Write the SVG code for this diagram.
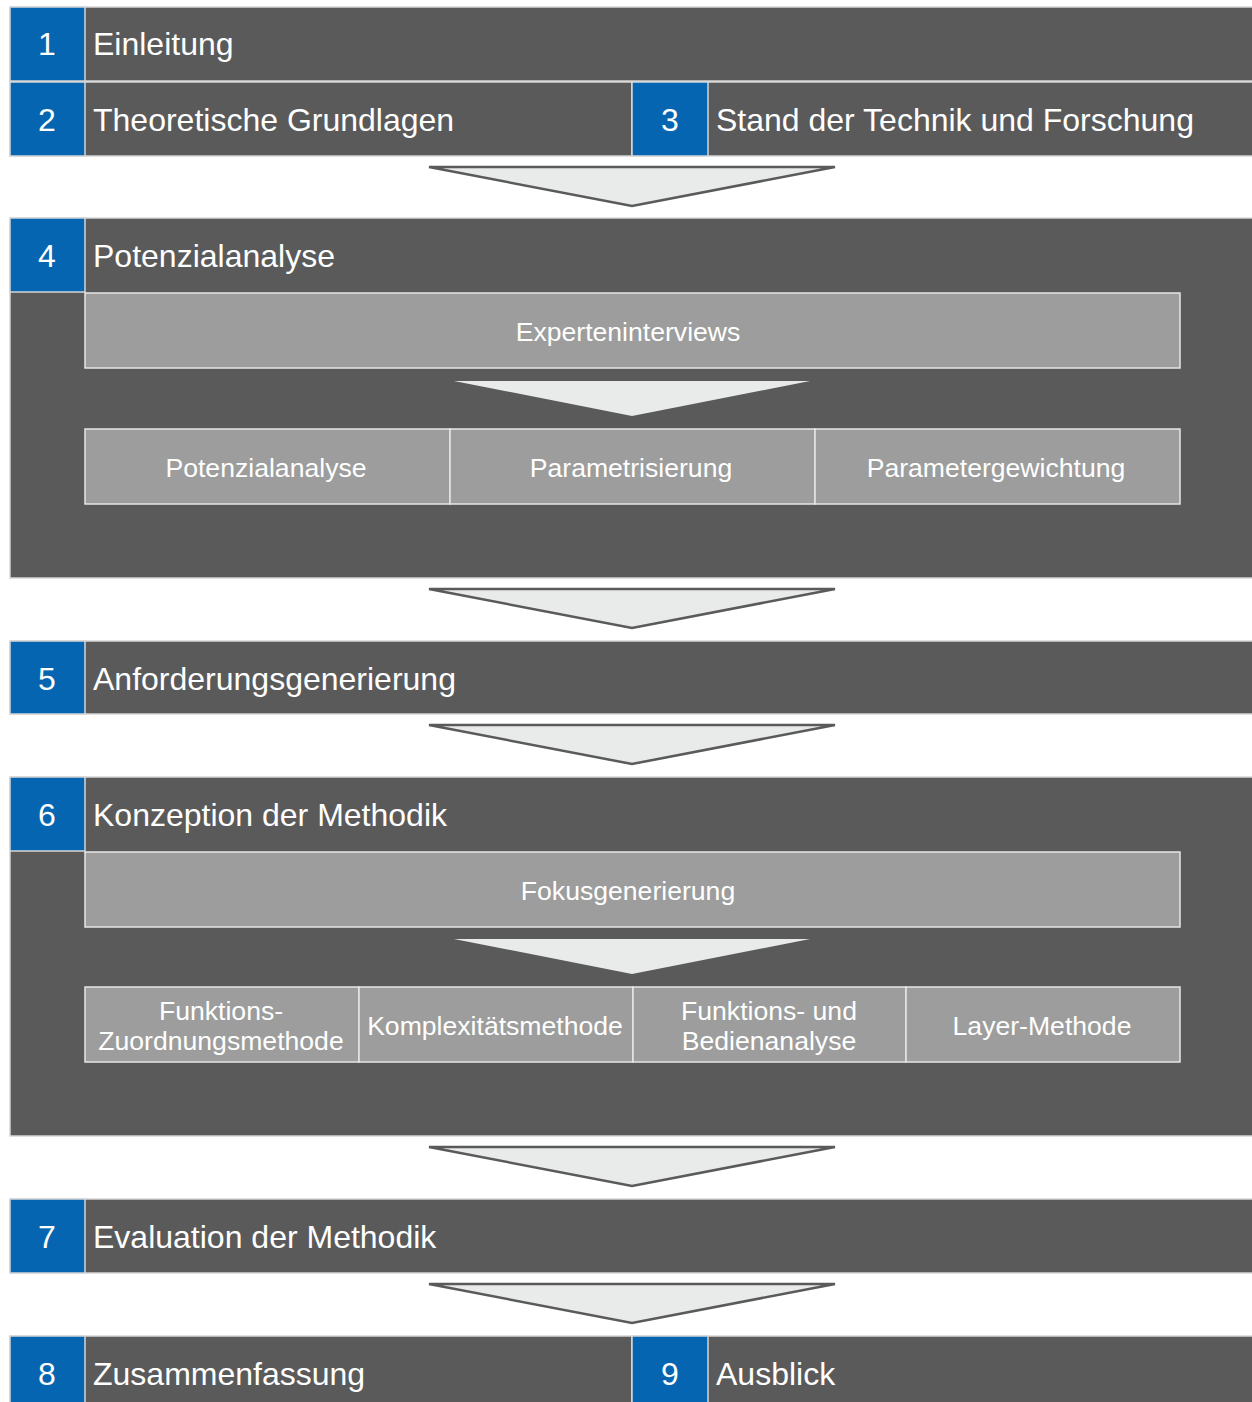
<svg xmlns="http://www.w3.org/2000/svg" width="1252" height="1402" viewBox="0 0 1252 1402">
<style>
.dark{fill:#5a5a5a;stroke:#d6d6d6;stroke-width:1.5}
.blue{fill:#0565b0;stroke:#d6d6d6;stroke-width:1.5}
.sub{fill:#9c9d9c;stroke:#e6e6e6;stroke-width:1.5}
.big{fill:#e9eaea;stroke:#5a5a5a;stroke-width:2.5;stroke-linejoin:miter}
.small{fill:#e9eaea}
.h{font-family:"Liberation Sans",Arial,sans-serif;font-size:32px;fill:#ffffff}
.n{font-family:"Liberation Sans",Arial,sans-serif;font-size:32px;fill:#ffffff;text-anchor:middle}
.s{font-family:"Liberation Sans",Arial,sans-serif;font-size:26.6px;fill:#ffffff;text-anchor:middle}
</style>
<rect width="1252" height="1402" fill="#ffffff"/>

<g id="node1">
<rect class="dark" x="10" y="7" width="1250" height="74"/>
<rect class="blue" x="10" y="7" width="75" height="74"/>
<text class="n" x="47" y="55">1</text>
<text class="h" x="93" y="55">Einleitung</text>
</g>

<g id="node2">
<rect class="dark" x="10" y="82" width="622" height="74"/>
<rect class="blue" x="10" y="82" width="75" height="74"/>
<text class="n" x="47" y="131">2</text>
<text class="h" x="93" y="131">Theoretische Grundlagen</text>
</g>

<g id="node3">
<rect class="dark" x="632" y="82" width="628" height="74"/>
<rect class="blue" x="632" y="82" width="76" height="74"/>
<text class="n" x="670" y="131">3</text>
<text class="h" x="716" y="131">Stand der Technik und Forschung</text>
</g>

<g id="node4">
<rect class="dark" x="10" y="218" width="1250" height="360"/>
<rect class="blue" x="10" y="218" width="75" height="74"/>
<text class="n" x="47" y="267">4</text>
<text class="h" x="93" y="267">Potenzialanalyse</text>
<g id="node4a">
<rect class="sub" x="85" y="293" width="1095" height="75"/>
<text class="s" x="628" y="341">Experteninterviews</text>
</g>
<polygon class="small" points="454,381 810,381 632,416"/>
<g id="node4b">
<rect class="sub" x="85" y="429" width="365" height="75"/>
<text class="s" x="266" y="477">Potenzialanalyse</text>
</g>
<g id="node4c">
<rect class="sub" x="450" y="429" width="365" height="75"/>
<text class="s" x="631" y="477">Parametrisierung</text>
</g>
<g id="node4d">
<rect class="sub" x="815" y="429" width="365" height="75"/>
<text class="s" x="996" y="477">Parametergewichtung</text>
</g>
</g>

<g id="node5">
<rect class="dark" x="10" y="641" width="1250" height="73"/>
<rect class="blue" x="10" y="641" width="75" height="73"/>
<text class="n" x="47" y="690">5</text>
<text class="h" x="93" y="690">Anforderungsgenerierung</text>
</g>

<g id="node6">
<rect class="dark" x="10" y="777" width="1250" height="359"/>
<rect class="blue" x="10" y="777" width="75" height="74"/>
<text class="n" x="47" y="826">6</text>
<text class="h" x="93" y="826">Konzeption der Methodik</text>
<g id="node6a">
<rect class="sub" x="85" y="852" width="1095" height="75"/>
<text class="s" x="628" y="900">Fokusgenerierung</text>
</g>
<polygon class="small" points="454,939 810,939 632,974"/>
<g id="node6b">
<rect class="sub" x="85" y="987" width="274" height="75"/>
<text class="s" x="221" y="1020">Funktions-</text>
<text class="s" x="221" y="1050">Zuordnungsmethode</text>
</g>
<g id="node6c">
<rect class="sub" x="359" y="987" width="274" height="75"/>
<text class="s" x="495" y="1035">Komplexitätsmethode</text>
</g>
<g id="node6d">
<rect class="sub" x="633" y="987" width="273" height="75"/>
<text class="s" x="769" y="1020">Funktions- und</text>
<text class="s" x="769" y="1050">Bedienanalyse</text>
</g>
<g id="node6e">
<rect class="sub" x="906" y="987" width="274" height="75"/>
<text class="s" x="1042" y="1035">Layer-Methode</text>
</g>
</g>

<g id="node7">
<rect class="dark" x="10" y="1199" width="1250" height="74"/>
<rect class="blue" x="10" y="1199" width="75" height="74"/>
<text class="n" x="47" y="1248">7</text>
<text class="h" x="93" y="1248">Evaluation der Methodik</text>
</g>

<g id="node8">
<rect class="dark" x="10" y="1336" width="622" height="80"/>
<rect class="blue" x="10" y="1336" width="75" height="80"/>
<text class="n" x="47" y="1385">8</text>
<text class="h" x="93" y="1385">Zusammenfassung</text>
</g>

<g id="node9">
<rect class="dark" x="632" y="1336" width="628" height="80"/>
<rect class="blue" x="632" y="1336" width="76" height="80"/>
<text class="n" x="670" y="1385">9</text>
<text class="h" x="716" y="1385">Ausblick</text>
</g>

<g id="connectors">
<polygon class="big" points="429,167 835,167 632,206"/>
<polygon class="big" points="429,589 835,589 632,628"/>
<polygon class="big" points="429,725 835,725 632,764"/>
<polygon class="big" points="429,1147 835,1147 632,1186"/>
<polygon class="big" points="429,1284 835,1284 632,1323"/>
</g>
</svg>
